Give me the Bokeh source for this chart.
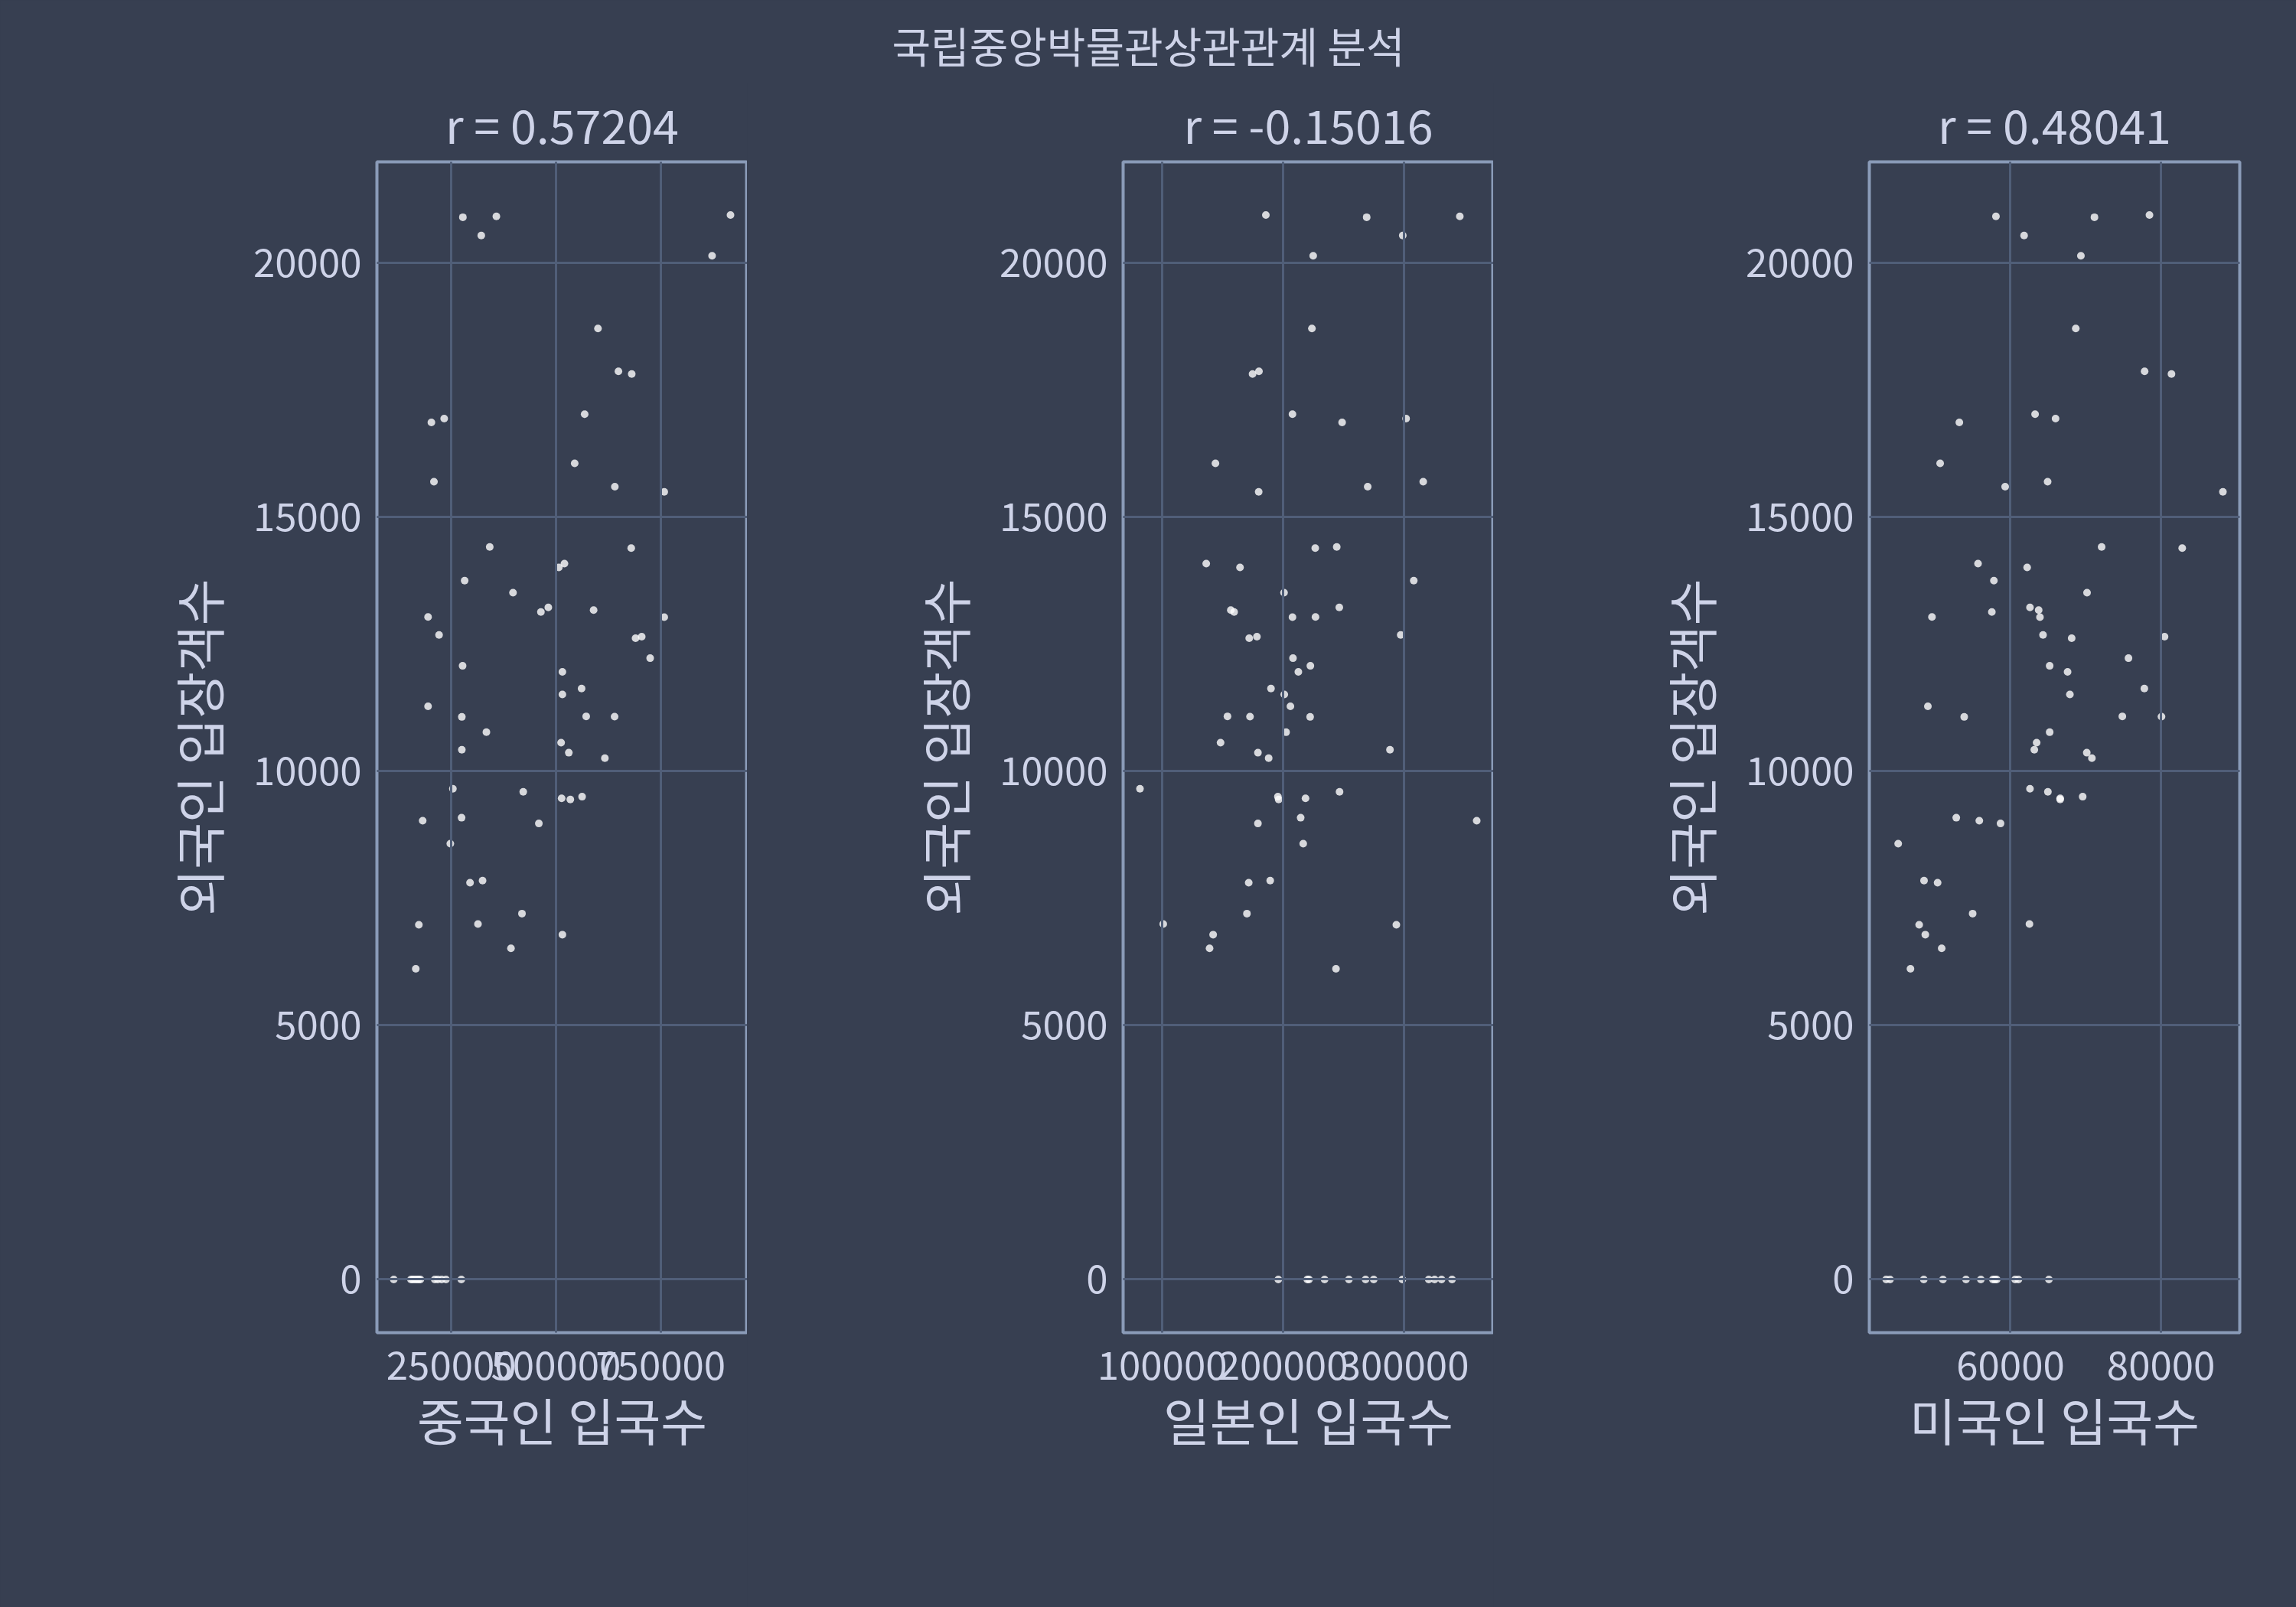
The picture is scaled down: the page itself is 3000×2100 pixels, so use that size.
from bokeh.plotting import figure
from bokeh.layouts import column, row
from bokeh.models import Range1d, FixedTicker, Label
from bokeh.embed import file_html
from bokeh.resources import INLINE

# ---------------- data ----------------
suptitle = "국립중앙박물관상관관계 분석"
y_label = "외국인 입장객수"
x_labels = ["중국인 입국수", "일본인 입국수", "미국인 입국수"]
r_titles = ["r = 0.57204", "r = -0.15016", "r = 0.48041"]

visitors = [20946, 20919, 20903, 20543, 20145, 18715, 17871, 17817, 17027, 16941,
            16866, 16059, 15699, 15602, 15500, 14414, 14393, 14086, 14011, 13753,
            13516, 13037, 13134, 13226, 13172, 13032, 12683, 12618, 12650, 12226,
            12075, 11957, 11629, 11511, 11279, 11070, 11081, 11075, 10769, 10564,
            10425, 10366, 10258, 9656, 9597, 9468, 9446, 9500, 9027, 9086,
            8973, 8575, 7807, 7850, 7199, 6979, 6995, 6785, 6516, 6113,
            0, 0, 0, 0, 0, 0, 0, 0, 0, 0, 0, 0]

china = [916870, 357579, 277506, 321516, 872861, 600244, 649144, 680929, 568460, 232885,
         202323, 544621, 208435, 640587, 758557, 341687, 679707, 520171, 506724, 281785,
         397311, 194377, 463936, 481663, 589853, 758557, 220660, 690098, 704768, 724939,
         276895, 515281, 561125, 515281, 194377, 275061, 572127, 639976, 333741, 512225,
         275061, 530562, 616748, 253667, 421760, 513447, 534230, 562347, 181540, 274450,
         459046, 247555, 294621, 324572, 418704, 172372, 313570, 515281, 392421, 165037,
         112440, 153520, 157740, 162690, 167460, 171870, 176080, 210380, 217720, 226890,
         237160, 273850]

japan = [185714, 346138, 269101, 298942, 224868, 223810, 180000, 174709, 207725, 301693,
         248783, 144021, 315873, 269947, 179788, 244339, 226561, 136402, 164339, 308042,
         200741, 226772, 159471, 246455, 156720, 207725, 297249, 171958, 178307, 208148,
         222540, 212593, 189947, 200952, 206032, 222328, 153968, 172593, 202434, 148254,
         288360, 179153, 188042, 81587, 246667, 218519, 196296, 195661, 360106, 214497,
         179153, 216614, 171534, 189312, 170053, 293651, 100847, 142116, 139153, 243704,
         196000, 220000, 221400, 234290, 254400, 268190, 274920, 298650, 320440, 325300,
         331030, 339700]

usa = [78469, 58061, 71156, 61803, 69354, 68673, 77823, 81395, 63265, 65986,
       53197, 50646, 64932, 59286, 88231, 72109, 82823, 55680, 62211, 57789,
       70170, 49558, 57517, 62585, 63741, 63912, 64320, 68129, 80476, 75680,
       65204, 67585, 77789, 67891, 49014, 53844, 74864, 80068, 65204, 63469,
       63163, 70136, 70816, 62585, 64966, 66599, 66599, 69592, 55850, 52789,
       58673, 45068, 50306, 48503, 54966, 47857, 62517, 48673, 50850, 46701,
       43469, 43980, 48469, 51020, 54082, 56054, 57653, 57925, 58163, 60612,
       61054, 65102]

x_ticks = [[250000, 500000, 750000], [100000, 200000, 300000], [60000, 80000]]
x_tick_labels = [["250000", "500000", "750000"], ["100000", "200000", "300000"], ["60000", "80000"]]
y_ticks = [0, 5000, 10000, 15000, 20000]
y_tick_labels = ["0", "5000", "10000", "15000", "20000"]

# ---------------- style ----------------
BG = "#373f51"
GRID = "#505e78"
FRAME = "#8a9bb8"
TXT = "#ced3e8"
FONT = "Noto Sans CJK KR"

TOP_H = 108
ROW_H = 2100 - TOP_H
FRAME_TOP = 100
FRAME_BOTTOM = 359
FRAME_W = 484
lefts = [492, 491, 491]
rights = [0, 0, 74]


def padded(vals):
    lo, hi = min(vals), max(vals)
    span = hi - lo
    return Range1d(lo - 0.05 * span, hi + 0.05 * span)


head = figure(width=3000, height=TOP_H, x_range=Range1d(0, 3000), y_range=Range1d(0, TOP_H),
              x_axis_location=None, y_axis_location=None, min_border=0,
              toolbar_location=None, output_backend="svg",
              background_fill_color=BG, border_fill_color=BG, outline_line_color=None)
head.xgrid.visible = False
head.ygrid.visible = False
head.add_layout(Label(x=1500, y=TOP_H - 57, text=suptitle, text_align="center",
                      text_baseline="middle", text_font=FONT, text_font_size="55px",
                      text_color=TXT))

panels = []
for i, xs in enumerate([china, japan, usa]):
    w = lefts[i] + FRAME_W + rights[i]
    p = figure(width=w, height=ROW_H, toolbar_location=None, output_backend="svg",
               x_range=padded(xs), y_range=padded(visitors),
               min_border_left=lefts[i], min_border_right=rights[i],
               min_border_top=FRAME_TOP, min_border_bottom=FRAME_BOTTOM,
               background_fill_color=BG, border_fill_color=BG,
               outline_line_color=FRAME, outline_line_width=4,
               title=r_titles[i], styles={"background-color": BG})
    p.scatter(xs, visitors, size=10, fill_color="#ffffff", fill_alpha=0.8, line_color=None)

    p.title.align = "center"
    p.title.text_font = FONT
    p.title.text_font_size = "61px"
    p.title.text_font_style = "normal"
    p.title.text_color = TXT
    p.title.standoff = 12

    for g in (p.xgrid, p.ygrid):
        g.grid_line_color = GRID
        g.grid_line_width = 3
        g.level = "annotation"
    p.xgrid.ticker = FixedTicker(ticks=x_ticks[i])
    p.ygrid.ticker = FixedTicker(ticks=y_ticks)

    p.xaxis.ticker = FixedTicker(ticks=x_ticks[i])
    p.xaxis.major_label_overrides = dict(zip(x_ticks[i], x_tick_labels[i]))
    p.yaxis.ticker = FixedTicker(ticks=y_ticks)
    p.yaxis.major_label_overrides = dict(zip(y_ticks, y_tick_labels))

    p.xaxis.axis_label = x_labels[i]
    p.yaxis.axis_label = y_label
    for ax in (p.xaxis, p.yaxis):
        ax.axis_line_color = None
        ax.major_tick_line_color = None
        ax.minor_tick_line_color = None
        ax.major_tick_out = 0
        ax.major_tick_in = 0
        ax.major_label_text_font = FONT
        ax.major_label_text_font_size = "51px"
        ax.major_label_text_color = TXT
        ax.axis_label_text_font = FONT
        ax.axis_label_text_font_size = "66px"
        ax.axis_label_text_font_style = "normal"
        ax.axis_label_text_color = TXT
    p.xaxis.major_label_standoff = 24
    p.yaxis.major_label_standoff = 20
    p.xaxis.axis_label_standoff = 0
    p.yaxis.axis_label_standoff = 22
    panels.append(p)

layout = column(head, row(*panels, spacing=0, styles={"background-color": BG}),
                spacing=0, styles={"background-color": BG})
open("out.html", "w").write(file_html(layout, INLINE))
